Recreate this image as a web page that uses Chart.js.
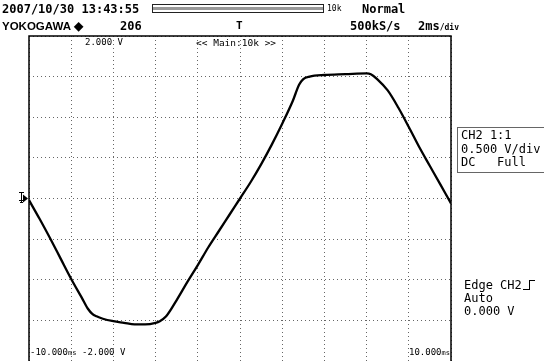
<!DOCTYPE html>
<html>
<head>
<meta charset="utf-8">
<script src="https://cdn.jsdelivr.net/npm/chart.js@4"></script>
<style>
  html, body { margin: 0; padding: 0; background: #fff; overflow: hidden; }
  #wrap { position: relative; width: 544px; height: 361px; }
  canvas { position: absolute; left: 0; top: 0; }
  .t { position: absolute; white-space: pre; color: #000; line-height: 1; font-family: "DejaVu Sans Mono", monospace; }
  .b { font-weight: bold; }
</style>
</head>
<body>
<div id="wrap">
  <canvas id="scope" width="544" height="361"></canvas>
</div>
<script>
// time axis (ms) and CH2 voltage (V)
const timeMs = [-10, -9.5, -9, -8.5, -8, -7.5, -7.2, -7, -6.8, -6.5, -6, -5.5, -5, -4.5, -4, -3.8, -3.5, -3, -2.5, -2, -1.5, -1, -0.5, 0,
  0.5, 1, 1.5, 2, 2.5, 2.8, 3, 3.3, 4, 5, 6, 6.2, 6.5, 7, 7.5, 8, 8.5, 9, 9.5, 10];
const ch2Volts = [-0.02, -0.25, -0.49, -0.74, -0.99, -1.22, -1.36, -1.42, -1.45, -1.48, -1.51, -1.53, -1.55, -1.55, -1.53, -1.51, -1.45, -1.25, -1.03, -0.82, -0.6, -0.4, -0.2, 0,
  0.2, 0.42, 0.66, 0.92, 1.2, 1.4, 1.47, 1.5, 1.52, 1.53, 1.54, 1.53, 1.47, 1.33, 1.12, 0.88, 0.63, 0.4, 0.17, -0.06];

const timeRange = [-10, 10];   // 2 ms/div
const voltRange = [-2, 2];     // 0.5 V/div

const wrap = document.getElementById('wrap');
function label(text, left, baseline, size, bold, extra) {
  const el = document.createElement('div');
  el.className = 't' + (bold ? ' b' : '');
  el.style.left = left + 'px';
  el.style.top = (baseline - 0.846 * size) + 'px';
  el.style.fontSize = size + 'px';
  if (extra) Object.assign(el.style, extra);
  el.textContent = text;
  wrap.appendChild(el);
  return el;
}
function suffix(el, text, size) {
  const s = document.createElement('span');
  s.textContent = text;
  s.style.fontSize = size + 'px';
  el.appendChild(s);
}

// header
label('2007/10/30 13:43:55', 2, 13, 12, true);
label('YOKOGAWA \u25C6', 2, 31, 11.5, true, { fontFamily: '"Liberation Sans", Arial, sans-serif' });
label('206', 120, 30, 12, true);
label('10k', 327, 12, 8);
label('Normal', 362, 13, 12, true);
label('500kS/s', 350, 30, 12, true);
suffix(label('2ms', 418, 30, 12, true), '/div', 8);
label('T', 236, 29, 11, true);

// record-length bar
const bar = document.createElement('div');
Object.assign(bar.style, { position: 'absolute', left: '152px', top: '4px', width: '170px', height: '7px',
  border: '1px solid #222', background: 'linear-gradient(#fff 0 2px, #999 2px 5px, #fff 5px)' });
wrap.appendChild(bar);

// in-graticule labels
label('2.000 V', 85, 46, 9);
label('<< Main:10k >>', 196, 46, 9.5);
suffix(label('-10.000', 30, 356, 9), 'ms', 7);
label('-2.000 V', 82, 356, 9);
suffix(label('10.000', 409, 356, 9), 'ms', 7);

// right panel
const box = document.createElement('div');
Object.assign(box.style, { position: 'absolute', left: '457px', top: '127px', width: '90px', height: '44px',
  border: '1px solid #666' });
wrap.appendChild(box);
label('CH2 1:1', 461, 139, 12);
label('0.500 V/div', 461, 153, 12);
label('DC   Full', 461, 166, 12);
label('Edge CH2', 464, 289, 12);
label('Auto', 464, 302, 12);
label('0.000 V', 464, 315, 12);
const edge = document.createElement('div');
Object.assign(edge.style, { position: 'absolute', left: '529px', top: '280px', width: '5px', height: '9px',
  borderLeft: '1px solid #000', borderTop: '1px solid #000' });
wrap.appendChild(edge);
const edgeLow = document.createElement('div');
Object.assign(edgeLow.style, { position: 'absolute', left: '523px', top: '289px', width: '7px', height: '0',
  borderTop: '1px solid #000' });
wrap.appendChild(edgeLow);

// frame + ground marker drawn on the chart canvas
const framePlugin = {
  id: 'frame',
  afterDraw(chart) {
    const { ctx, chartArea: a } = chart;
    ctx.save();
    ctx.strokeStyle = '#000';
    ctx.lineWidth = 1.5;
    ctx.beginPath();
    ctx.moveTo(a.left, a.bottom + 2);
    ctx.lineTo(a.left, a.top);
    ctx.lineTo(a.right, a.top);
    ctx.lineTo(a.right, a.bottom + 2);
    ctx.stroke();
    const y0 = chart.scales.y.getPixelForValue(0);
    ctx.fillStyle = '#000';
    ctx.beginPath();
    ctx.moveTo(a.left - 1, y0);
    ctx.lineTo(a.left - 6, y0 - 4);
    ctx.lineTo(a.left - 6, y0 + 4);
    ctx.closePath();
    ctx.fill();
    ctx.lineWidth = 1;
    ctx.beginPath();
    ctx.moveTo(a.left - 10, y0 - 6); ctx.lineTo(a.left - 5, y0 - 6);
    ctx.moveTo(a.left - 7.5, y0 - 6); ctx.lineTo(a.left - 7.5, y0 + 4);
    ctx.moveTo(a.left - 10, y0 + 2); ctx.lineTo(a.left - 5, y0 + 2);
    ctx.moveTo(a.left - 9, y0 + 4); ctx.lineTo(a.left - 6, y0 + 4);
    ctx.stroke();
    ctx.restore();
  }
};

const points = timeMs.map((t, i) => ({ x: t, y: ch2Volts[i] }));

new Chart(document.getElementById('scope'), {
  type: 'line',
  data: {
    datasets: [{
      label: 'CH2',
      data: points,
      borderColor: '#000',
      borderWidth: 2.3,
      pointRadius: 0,
      cubicInterpolationMode: 'monotone',
      fill: false
    }]
  },
  options: {
    responsive: false,
    animation: false,
    devicePixelRatio: 1,
    layout: { padding: { left: 29, top: 36, right: 93, bottom: 0 } },
    plugins: { legend: { display: false }, tooltip: { enabled: false } },
    scales: {
      x: {
        type: 'linear', min: timeRange[0], max: timeRange[1],
        ticks: { display: false, stepSize: 2 },
        grid: { color: '#666', lineWidth: 1, drawTicks: false },
        border: { display: false, dash: [1, 3] }
      },
      y: {
        type: 'linear', min: voltRange[0], max: voltRange[1],
        ticks: { display: false, stepSize: 0.5 },
        grid: { color: '#666', lineWidth: 1, drawTicks: false },
        border: { display: false, dash: [1, 3] }
      }
    }
  },
  plugins: [framePlugin]
});
</script>
</body>
</html>
